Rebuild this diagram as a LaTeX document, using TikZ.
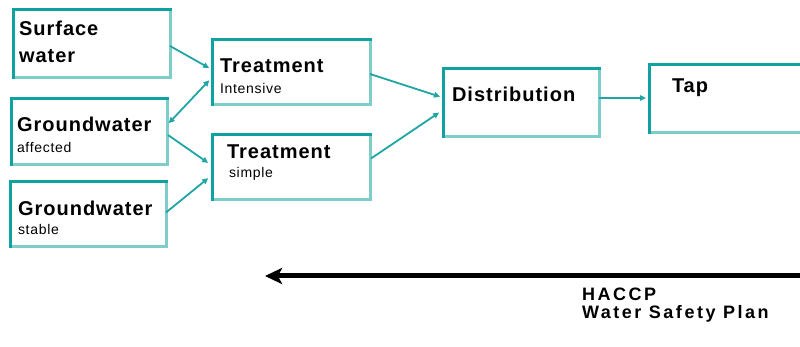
\documentclass[tikz,border=0pt]{standalone}
\usepackage{fontspec}
\setmainfont{Liberation Sans}[LetterSpace=5]
\newfontfamily\widefont{Liberation Sans}[LetterSpace=14]
\usetikzlibrary{arrows.meta,calc}
\definecolor{tealD}{HTML}{10A2A0}
\definecolor{tealL}{HTML}{7ECDCA}
\definecolor{tealC}{HTML}{1FA6A4}
\begin{document}
\begin{tikzpicture}[x=1pt,y=-1pt,
  box/.style={draw=tealL, line width=3pt, inner sep=0pt, outer sep=0pt, anchor=north west, fill=white},
  big/.style={inner sep=0pt, outer sep=0pt, anchor=base west, font=\fontsize{20}{24}\selectfont\bfseries},
  small/.style={inner sep=0pt, outer sep=0pt, anchor=base west, font=\fontsize{14}{16}\selectfont},
  plan/.style={inner sep=0pt, outer sep=0pt, anchor=base west, font=\widefont\fontsize{18}{20}\selectfont\bfseries},
  conn/.style={draw=tealC, line width=1.8pt, -{Triangle[length=6pt,width=5.5pt]}, shorten >=1pt},
  conn2/.style={draw=tealC, line width=1.8pt, {Triangle[length=6pt,width=5.5pt]}-{Triangle[length=6pt,width=5.5pt]}, shorten >=1pt, shorten <=1pt}
]
\useasboundingbox (0,0) rectangle (800,347);
\clip (0,0) rectangle (800,347);
\fill[white] (0,0) rectangle (800,347);

% boxes
\node[box, minimum width=157pt, minimum height=68pt] (sw) at (13,10) {};
\node[box, minimum width=156pt, minimum height=66pt] (ga) at (11,99) {};
\node[box, minimum width=156pt, minimum height=65pt] (gs) at (10,182) {};
\node[box, minimum width=158pt, minimum height=65pt] (ti) at (212,40) {};
\node[box, minimum width=158pt, minimum height=65pt] (ts) at (212,135) {};
\node[box, minimum width=156pt, minimum height=68pt] (d) at (443,69) {};
\node[box, minimum width=181pt, minimum height=68pt] (tap) at (649,65) {};
\foreach \n in {sw,ga,gs,ti,ts,d,tap}
  \draw[tealD, line width=3pt, line cap=rect] (\n.south west) -- (\n.north west) -- (\n.north east);

% texts
\node[big] (t1) at (19,36) {Surface};
\node[big] (t2) at (19,63) {water};
\node[big] (t3) at (17,132) {Groundwater};
\node[small] (t4) at (17,153) {affected};
\node[big] (t5) at (18,216) {Groundwater};
\node[small] (t6) at (18,235) {stable};
\node[big] (t7) at (220,73) {Treatment};
\node[small] (t8) at (220,94) {Intensive};
\node[big] (t9) at (227,159) {Treatment};
\node[small] (t10) at (229,178) {simple};
\node[big] (t11) at (452,102) {Distribution};
\node[big] (t12) at (672,93) {Tap};
\node[plan] (t13) at (582,300) {HACCP};
\node[plan] (t14) at (582,318) {Water Safety Plan};

% connectors
\draw[conn] ($(sw.east)+(0,2)$) -- ($(ti.west)+(-2,-4)$);
\draw[conn2] ($(ga.east)+(1,-8)$) -- ($(ti.west)+(-2,7)$);
\draw[conn] ($(ga.east)+(1,3)$) -- ($(ts.west)+(-3,-4)$);
\draw[conn] ($(gs.east)+(0,-2)$) -- ($(ts.west)+(-3,10)$);
\draw[conn] ($(ti.east)+(0,1.5)$) -- ($(d.west)+(-2,-6)$);
\draw[conn] ($(ts.east)+(1,-9)$) -- ($(d.west)+(-3,9)$);
\draw[conn] ($(d.east)+(0,-5)$) -- ($(tap.west)+(-2,-1)$);

% big arrow
\coordinate (arrR) at (820,276);
\coordinate (arrL) at (265,276);
\draw[black, line width=5pt, -{Stealth[length=17pt,width=16pt,inset=4pt]}] (arrR) -- (arrL);
\end{tikzpicture}
\end{document}
